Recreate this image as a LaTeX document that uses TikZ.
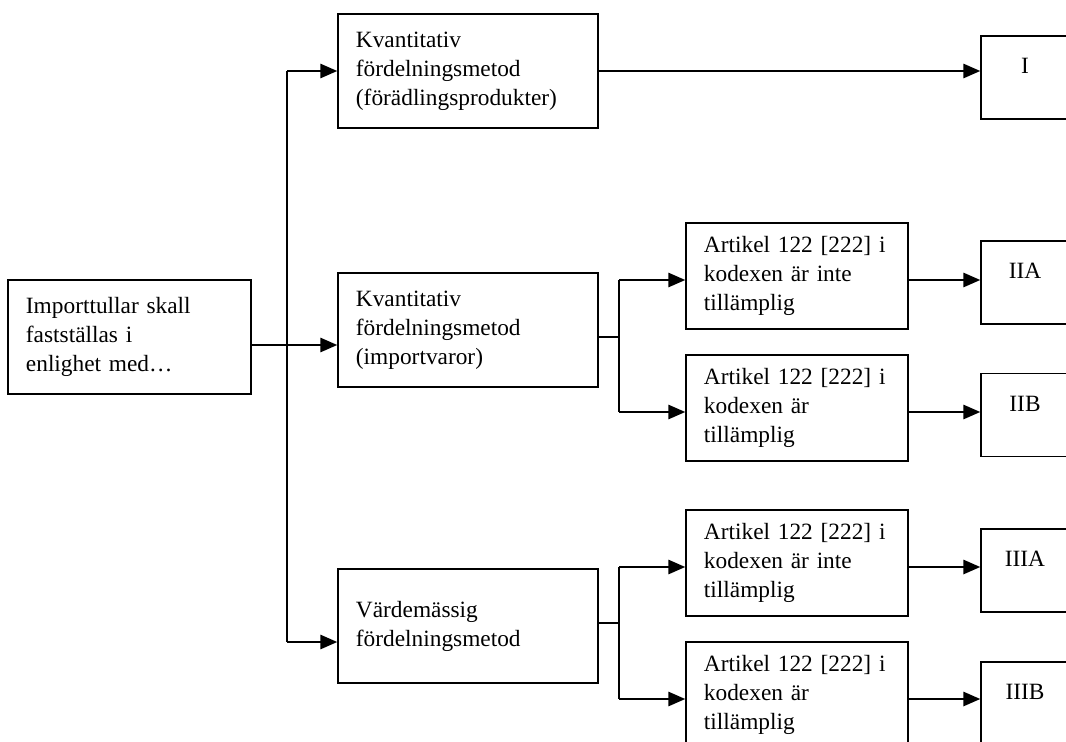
\documentclass[tikz,border=0pt]{standalone}
\usepackage{fontspec}
\setmainfont{Liberation Serif}
\usetikzlibrary{arrows.meta,calc,positioning}
\tikzset{
  every picture/.style={font=\fontsize{16.6}{20.6}\selectfont},
  box/.style={draw,line width=1.1pt,align=left,inner xsep=0.45cm,inner ysep=0pt},
  method/.style={box,text width=5.6cm,minimum height=2.85cm},
  article/.style={box,text width=4.65cm,minimum height=2.65cm},
  outcome/.style={draw,line width=1.1pt,align=center,minimum width=2.2cm,
    minimum height=2.075cm,inner sep=0.1cm,text height=0.65cm,text depth=0.85cm},
  link/.style={line width=1pt},
  flow/.style={link,-{Triangle[length=4.2mm,width=3.6mm]}},
  stub/.style={line width=1.6pt},
}
\begin{document}
\begin{tikzpicture}[x=0.025cm,y=-0.025cm]
  \path[use as bounding box] (0,0) rectangle (1066,742);
  \clip (0,0) rectangle (1066,742);
  % start box, three methods, then the article cases
  \node[box,text width=5.175cm,minimum height=2.85cm] (start) at (129.5,337)
    {Importtullar skall\\fastställas i\\enlighet med…};
  \node[method] (k1) at (468,71) {Kvantitativ\\fördelningsmetod\\(förädlingsprodukter)};
  \node[method] (k2) at (468,330) {Kvantitativ\\fördelningsmetod\\(importvaror)};
  \node[method] (vm) at (468,626) {Värdemässig\\fördelningsmetod};
  \node[article] (a1) at (797,276) {Artikel 122 [222] i\\kodexen är inte\\tillämplig};
  \node[article] (a2) at (797,408) {Artikel 122 [222] i\\kodexen är\\tillämplig};
  \node[article] (b1) at (797,563) {Artikel 122 [222] i\\kodexen är inte\\tillämplig};
  \node[article] (b2) at (797,695) {Artikel 122 [222] i\\kodexen är\\tillämplig};
  \foreach \n/\y/\t in {o1/77.5/I,o2a/282.5/IIA,o2b/415/IIB,o3a/570.5/IIIA,o3b/703.5/IIIB}
    {\node[outcome] (\n) at (1025,\y) {\t};}
  % trunk from the start box
  \coordinate (trunk) at (287,345);
  \coordinate (vmin) at ([yshift=-0.4cm]vm.west);
  \draw[flow] (start.east |- trunk) -- (k2.west |- trunk);
  \draw[link] (trunk |- k1.west) -- (trunk |- vmin);
  \draw[flow] (trunk |- k1.west) -- (k1.west);
  \draw[flow] (trunk |- vmin) -- (vmin);
  \draw[flow] (k1.east) -- (k1.east -| o1.west);
  % forks to the article cases
  \coordinate (fork2) at (619,337);
  \coordinate (fork3) at (619,623);
  \draw[stub] (k2.east |- fork2) -- (fork2);
  \draw[stub] (vm.east |- fork3) -- (fork3);
  \foreach \a/\o/\f in {a1/o2a/fork2,a2/o2b/fork2,b1/o3a/fork3,b2/o3b/fork3} {
    \coordinate (in\a) at ([yshift=-0.1cm]\a.west);
    \draw[flow] (\f |- in\a) -- (in\a);
    \draw[flow] (\a.east |- in\a) -- (\o.west |- in\a);
  }
  \draw[link] (fork2 |- ina1) -- (fork2 |- ina2);
  \draw[link] (fork3 |- inb1) -- (fork3 |- inb2);
\end{tikzpicture}
\end{document}
